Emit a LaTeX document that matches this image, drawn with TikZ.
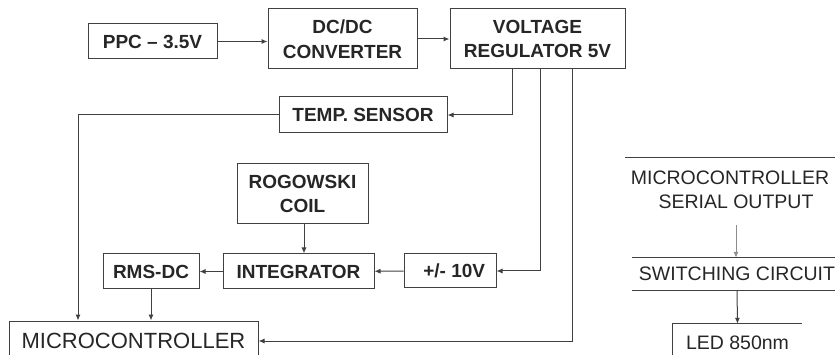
\documentclass[tikz,border=0pt]{standalone}
\usepackage{fontspec}
\setmainfont{Liberation Sans}
\usetikzlibrary{arrows.meta}

\begin{document}
\begin{tikzpicture}[x=1pt, y=-1pt,
    blk/.style={draw=black!75, line width=1pt, inner sep=0pt, align=center, text=black!85,
      font=\fontsize{19}{24.5}\selectfont\bfseries},
    txt/.style={inner sep=0pt, text=black!85, font=\fontsize{19.5}{23}\selectfont},
    wire/.style={draw=black!75, line width=1pt},
    arr/.style={wire, -{Latex[length=6pt,width=5pt]}}]
        % \draw[help lines, gray!50, very thin] (0,0) grid[step=50] (835,355);
        \clip (0,0) rectangle (835,355);

        \node[blk, minimum width=129pt, minimum height=35pt] (ppc) at (152.5,41.5) {PPC -- 3.5V};
        \node[blk, minimum width=149pt, minimum height=60pt] (dcdc) at (342.5,39) {DC/DC\\CONVERTER};
        \node[blk, minimum width=175pt, minimum height=60pt] (reg) at (537.5,39) {VOLTAGE\\REGULATOR 5V};
        \node[blk, minimum width=168pt, minimum height=36pt] (temp) at (363,115) {TEMP. SENSOR};
        \node[blk, minimum width=131pt, minimum height=60pt] (rog) at (302.5,194) {ROGOWSKI\\COIL};
        \node[blk, minimum width=151pt, minimum height=35pt] (integ) at (298.5,271.5) {INTEGRATOR};
        \node[blk, minimum width=96pt, minimum height=35pt] (rms) at (151,271.5) {RMS-DC};
        \node[blk, minimum width=92pt, minimum height=34pt] (pm) at (450,271) {\ \,+/- 10V};
        \node[blk, font=\fontsize{22}{24}\selectfont, minimum width=249pt, minimum height=40pt] (mcu) at (133.5,341) {MICROCONTROLLER};

        \draw[arr] (ppc) -- (dcdc.west |- ppc);
        \draw[arr] (dcdc) -- (reg);
        \draw[arr] ([xshift=-25.5pt]reg.south) |- (temp.east);
        \draw[arr] (temp.west) -| ([xshift=-55.5pt]mcu.north);
        \draw[arr] ([xshift=1.5pt]rog.south) -- ([xshift=5.5pt]integ.north);
        \draw[arr] (integ) -- (rms);
        \draw[arr] (rms) -- (rms |- mcu.north);
        \draw[arr] (pm) -- (integ);
        \draw[arr] ([xshift=2.5pt]reg.south) |- (pm.east);
        \draw[arr] ([xshift=34.5pt]reg.south) |- (mcu.east);

        % right column
        \node[txt, minimum width=210pt, minimum height=40pt] (mcu2) at (730,178) {MICROCONTROLLER};
        \node[txt] (ser) at (736,202) {SERIAL OUTPUT};
        \node[txt, minimum width=210pt, minimum height=32pt] (sw) at (737,274) {SWITCHING CIRCUIT};
        \node[txt, minimum width=129pt, minimum height=38pt] (led) at (737.5,343) {LED 850nm};
        \draw[wire] (mcu2.north west) -- (mcu2.north east);
        \draw[wire] (sw.north west) -- (sw.north east);
        \draw[wire] (sw.south west) -- (sw.south east);
        \draw[wire] (led.south west) -- (led.north west) -- (led.north east);
        \draw[arr, draw=black!45] ([yshift=-16pt]ser.south) -- (ser.south |- sw.north);
        \draw[arr] (sw.south) -- (led.north);
      \end{tikzpicture}
\end{document}
